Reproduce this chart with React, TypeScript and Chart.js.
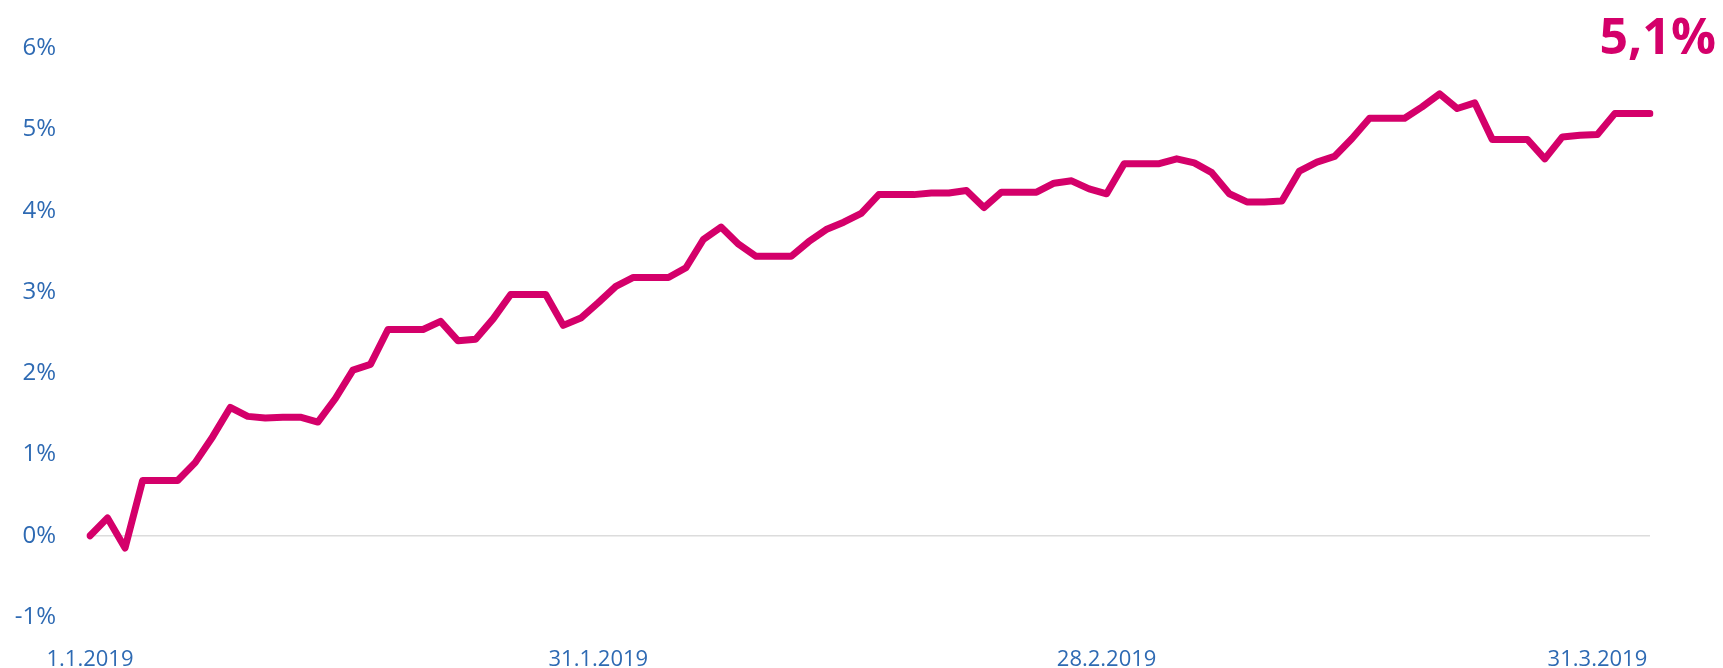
import React, { useEffect, useRef } from "react";
import { Chart, registerables } from "chart.js";

Chart.register(...registerables);

// Daily cumulative return, 1.1.2019 – 31.3.2019 (in %)
const values: number[] = [
  0.0, 0.22, -0.15, 0.68, 0.68, 0.68, 0.9, 1.22, 1.58, 1.47,
  1.45, 1.46, 1.46, 1.4, 1.69, 2.04, 2.11, 2.54, 2.54, 2.54,
  2.64, 2.4, 2.42, 2.67, 2.97, 2.97, 2.97, 2.59, 2.68, 2.87,
  3.07, 3.18, 3.18, 3.18, 3.3, 3.65, 3.8, 3.59, 3.44, 3.44,
  3.44, 3.62, 3.77, 3.86, 3.97, 4.2, 4.2, 4.2, 4.22, 4.22,
  4.25, 4.04, 4.23, 4.23, 4.23, 4.34, 4.37, 4.27, 4.21, 4.58,
  4.58, 4.58, 4.64, 4.59, 4.47, 4.21, 4.11, 4.11, 4.12, 4.49,
  4.6, 4.67, 4.89, 5.14, 5.14, 5.14, 5.28, 5.44, 5.26, 5.33,
  4.88, 4.88, 4.88, 4.64, 4.91, 4.93, 4.94, 5.2, 5.2, 5.2,
];

// category labels: one per day
const categories: string[] = values.map((_, i) => {
  const d = new Date(2019, 0, 1 + i);
  return `${d.getDate()}.${d.getMonth() + 1}.${d.getFullYear()}`;
});

const tickLabels: string[] = ["1.1.2019", "31.1.2019", "28.2.2019", "31.3.2019"];
const tickIndices: number[] = [0, 29, 58, 86];

const yTicks = { min: -1, max: 6, step: 1 };
const finalLabel = "5,1%";

const LINE = "#d4006a";
const BLUE = "#2e6ab3";

export default function App() {
  const ref = useRef<HTMLCanvasElement | null>(null);

  useEffect(() => {
    if (!ref.current) return;
    const chart = new Chart(ref.current, {
      type: "line",
      data: {
        labels: categories,
        datasets: [
          {
            data: values,
            borderColor: LINE,
            borderWidth: 7,
            pointRadius: 0,
            tension: 0,
            borderJoinStyle: "round",
            borderCapStyle: "round",
            fill: false,
          },
        ],
      },
      options: {
        animation: false,
        responsive: true,
        maintainAspectRatio: false,
        layout: { padding: { left: 0, right: 73, top: 43, bottom: 0 } },
        plugins: {
          legend: { display: false },
          tooltip: { enabled: false },
          title: { display: false },
        },
        scales: {
          x: {
            type: "category",
            offset: false,
            grid: { display: false, drawTicks: false },
            border: { display: false },
            afterFit: (s: any) => {
              s.height = 51;
            },
            ticks: {
              autoSkip: false,
              maxRotation: 0,
              minRotation: 0,
              padding: 30,
              color: BLUE,
              font: { family: "'Open Sans'", size: 22 },
              callback: (_v: any, index: number) => {
                const k = tickIndices.indexOf(index);
                return k >= 0 ? tickLabels[k] : "";
              },
            },
          },
          y: {
            min: yTicks.min,
            max: yTicks.max,
            grid: {
              drawTicks: false,
              lineWidth: 1.5,
              color: (ctx: any) =>
                ctx.tick && ctx.tick.value === 0 ? "#dcdcdc" : "rgba(0,0,0,0)",
            },
            border: { display: false },
            afterFit: (s: any) => {
              s.width = 90;
            },
            ticks: {
              stepSize: yTicks.step,
              padding: 34,
              color: BLUE,
              font: { family: "'Open Sans'", size: 24 },
              callback: (v: any) => `${v}%`,
            },
          },
        },
      },
    });
    return () => chart.destroy();
  }, []);

  return (
    <div
      style={{
        position: "fixed",
        left: 0,
        top: 0,
        width: 1723,
        height: 668,
        background: "#ffffff",
      }}
    >
      <canvas ref={ref} />
      <div
        style={{
          position: "absolute",
          right: 7,
          top: 10,
          fontFamily: "'Open Sans'",
          fontWeight: 700,
          fontSize: 50,
          lineHeight: 1,
          color: LINE,
          whiteSpace: "nowrap",
        }}
      >
        {finalLabel}
      </div>
    </div>
  );
}
